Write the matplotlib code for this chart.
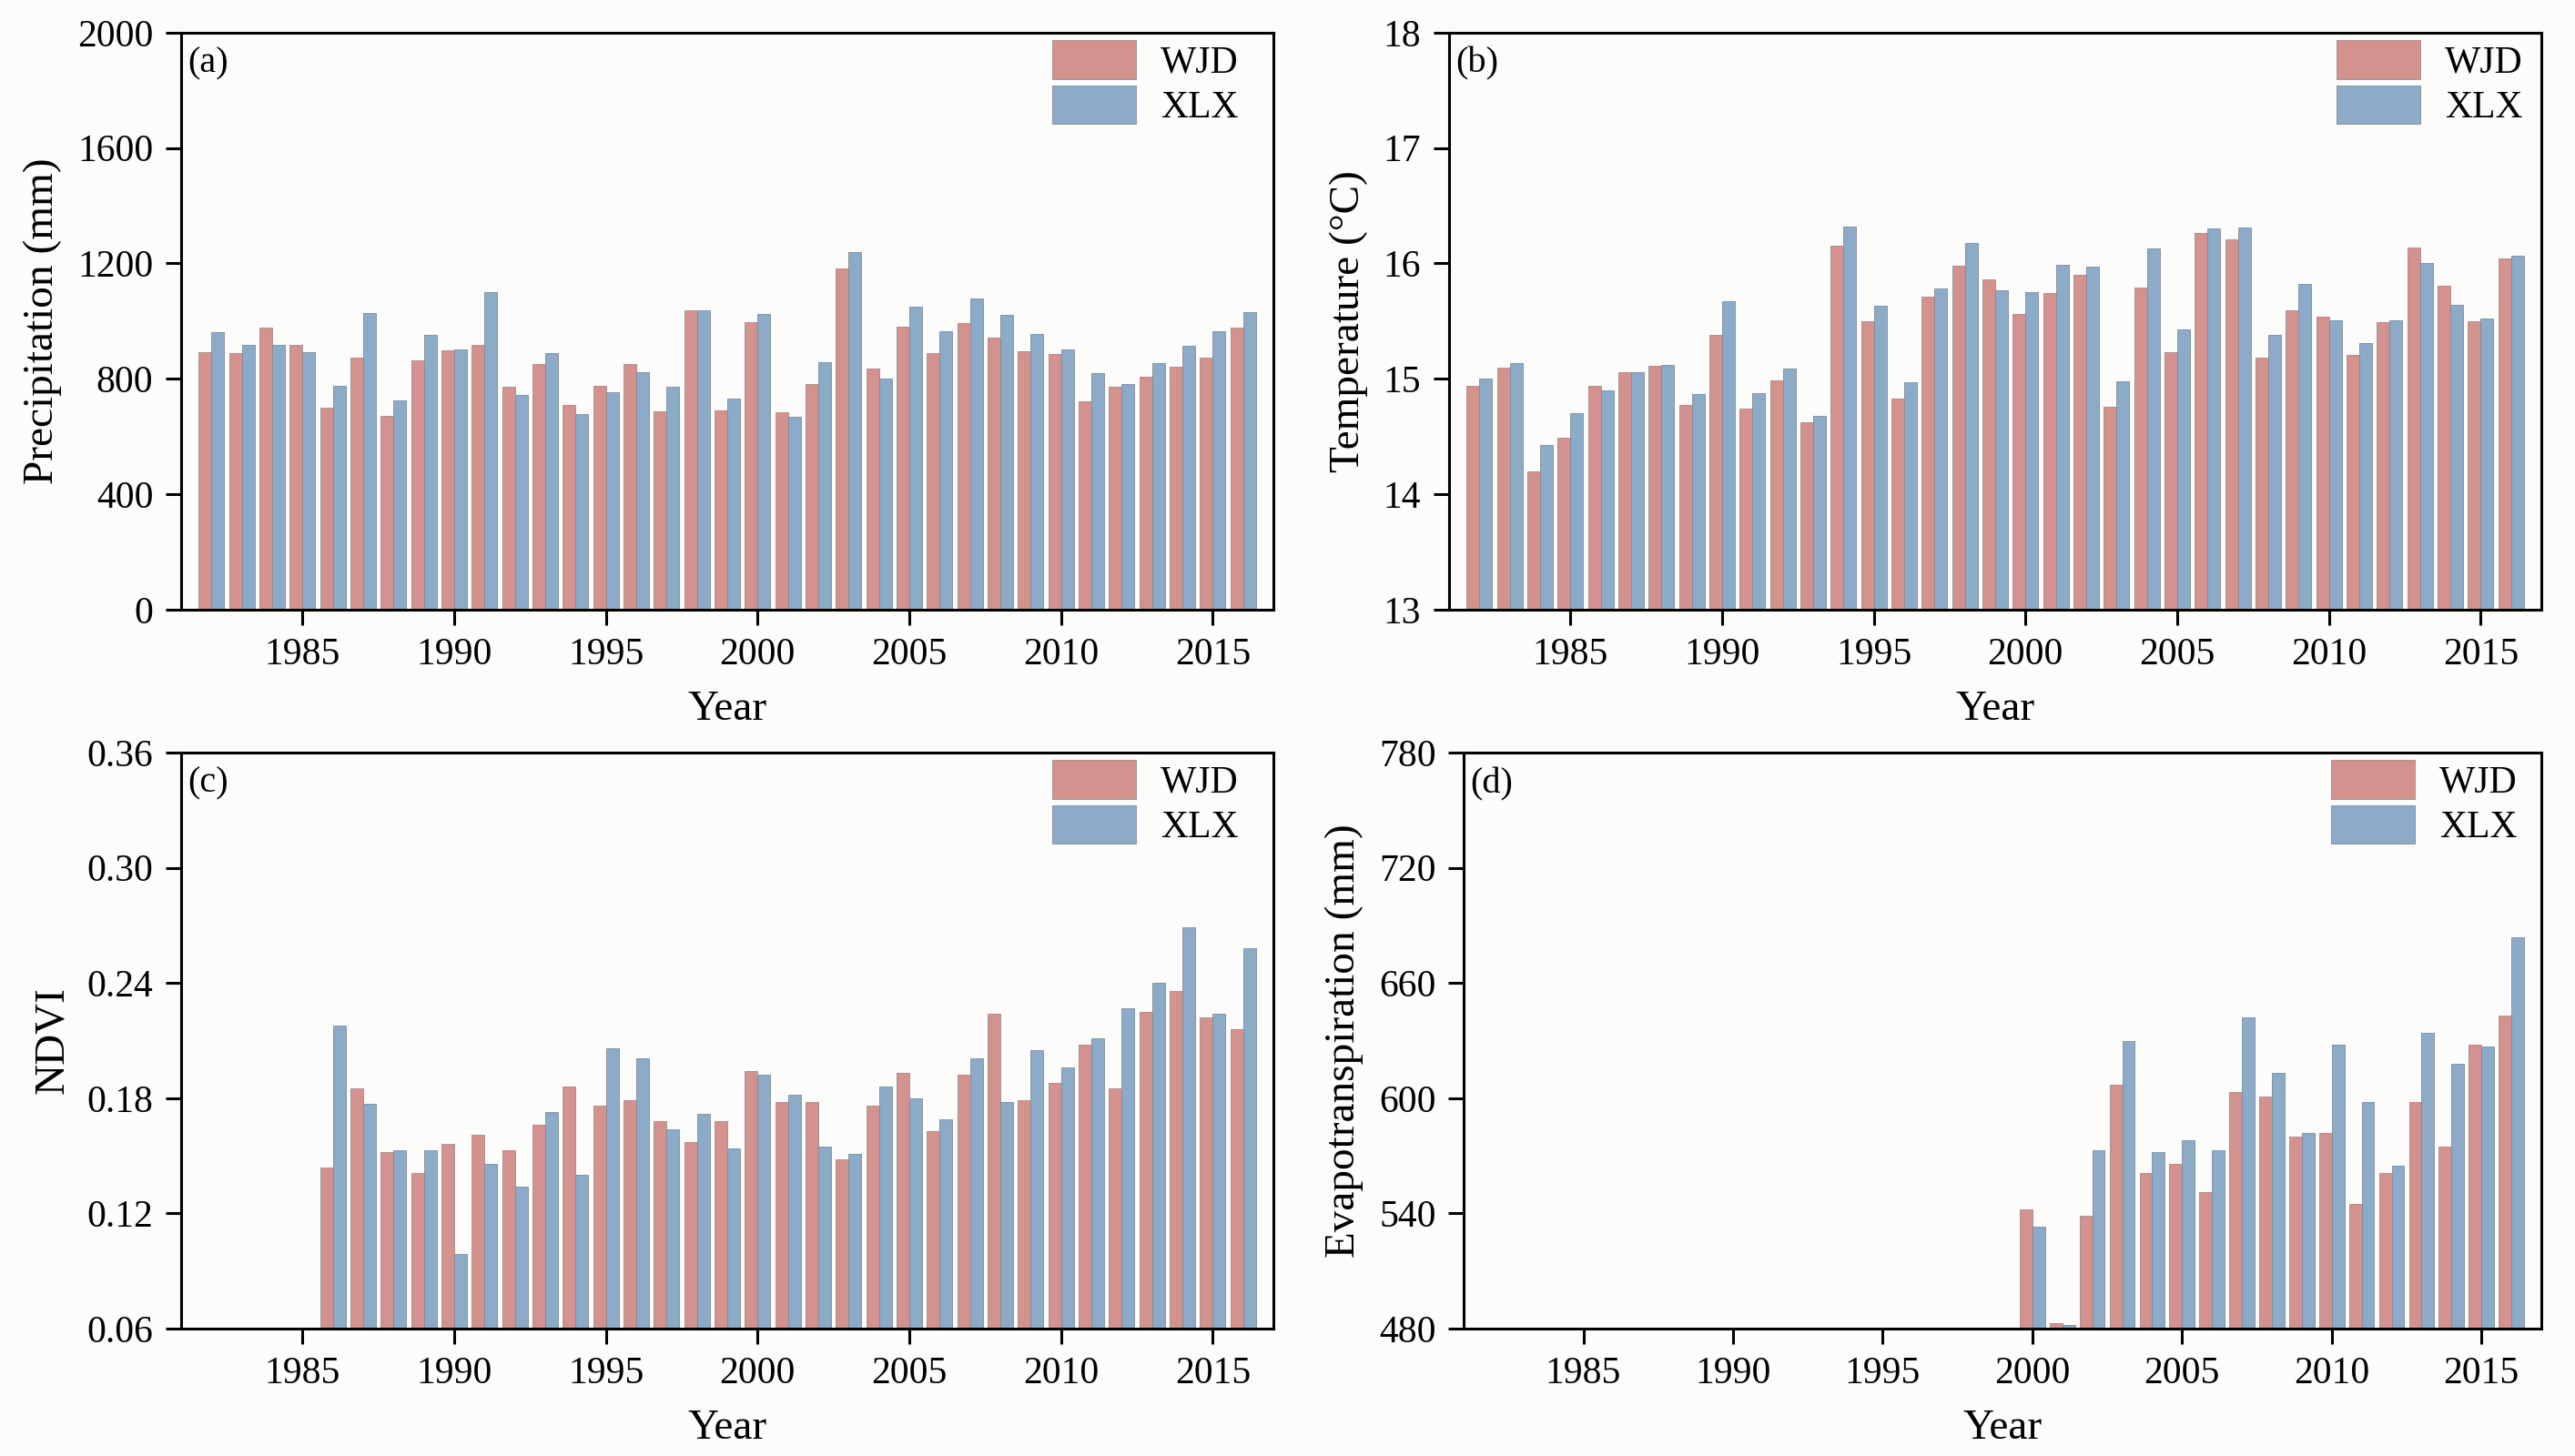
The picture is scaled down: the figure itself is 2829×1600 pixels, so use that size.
import numpy as np
import matplotlib
matplotlib.use('Agg')
from matplotlib import pyplot as plt
from matplotlib.ticker import FormatStrFormatter

plt.rcParams['font.family'] = ['Liberation Serif', 'DejaVu Serif']

years = list(range(1982, 2017))

# (a) precipitation, mm
precip_wjd = [892, 888, 976, 918, 700, 874, 672, 863, 898, 919, 774, 850, 708, 777, 851, 687, 1037, 691,
              998, 685, 783, 1182, 835, 981, 890, 992, 943, 896, 887, 722, 774, 808, 842, 874, 976]
precip_xlx = [963, 918, 918, 893, 777, 1029, 724, 951, 901, 1100, 745, 890, 679, 753, 824, 771, 1037, 730,
              1026, 667, 859, 1239, 800, 1050, 964, 1078, 1021, 956, 901, 821, 783, 853, 913, 964, 1031]

# (b) temperature, degC
temp_wjd = [14.94, 15.10, 14.20, 14.49, 14.94, 15.06, 15.11, 14.77, 15.38, 14.74, 14.99, 14.62, 16.15, 15.50,
            14.83, 15.71, 15.98, 15.86, 15.56, 15.74, 15.90, 14.76, 15.79, 15.23, 16.26, 16.21, 15.18, 15.59,
            15.54, 15.21, 15.49, 16.14, 15.81, 15.50, 16.04]
temp_xlx = [15.00, 15.14, 14.43, 14.70, 14.90, 15.06, 15.12, 14.87, 15.67, 14.88, 15.09, 14.68, 16.32, 15.63,
            14.97, 15.78, 16.18, 15.77, 15.75, 15.99, 15.97, 14.98, 16.13, 15.43, 16.30, 16.31, 15.38, 15.82,
            15.51, 15.31, 15.51, 16.00, 15.64, 15.52, 16.07]

# (c) NDVI, 1986-2016
ndvi_years = list(range(1986, 2017))
ndvi_wjd = [0.144, 0.185, 0.152, 0.141, 0.156, 0.161, 0.153, 0.166, 0.186, 0.176, 0.179, 0.168, 0.157, 0.168,
            0.194, 0.178, 0.178, 0.148, 0.176, 0.193, 0.163, 0.192, 0.224, 0.179, 0.188, 0.208, 0.185, 0.225,
            0.236, 0.222, 0.216]
ndvi_xlx = [0.218, 0.177, 0.153, 0.153, 0.099, 0.146, 0.134, 0.173, 0.140, 0.206, 0.201, 0.164, 0.172, 0.154,
            0.192, 0.182, 0.155, 0.151, 0.186, 0.180, 0.169, 0.201, 0.178, 0.205, 0.196, 0.211, 0.227, 0.240,
            0.269, 0.224, 0.258]

# (d) evapotranspiration, mm, 2000-2016
et_years = list(range(2000, 2017))
et_wjd = [542, 483, 539, 607, 561, 566, 551, 603, 601, 580, 582, 545, 561, 598, 575, 628, 643]
et_xlx = [533, 482, 573, 630, 572, 578, 573, 642, 613, 582, 628, 598, 565, 634, 618, 627, 684]

c_wjd = '#d4928f'
c_xlx = '#8cabc8'
bg = '#fcfcfa'

fig = plt.figure(figsize=(28.29, 16), dpi=100, facecolor=bg)

# axes boxes in figure fractions, plus where the legend's right edge sits
boxes = [
    [0.0703, 0.5813, 0.4242, 0.3963],
    [0.5627, 0.5813, 0.4242, 0.3963],
    [0.0703, 0.0875, 0.4242, 0.3956],
    [0.5684, 0.0875, 0.4185, 0.3956],
]
legend_x = [0.975, 0.99, 0.975, 0.985]

panels = [
    (years, precip_wjd, precip_xlx, 'Precipitation (mm)', (0, 2000), np.arange(0, 2001, 400), '(a)', None),
    (years, temp_wjd, temp_xlx, 'Temperature (°C)', (13, 18), np.arange(13, 19, 1), '(b)', None),
    (ndvi_years, ndvi_wjd, ndvi_xlx, 'NDVI', (0.06, 0.36), np.arange(0.06, 0.37, 0.06), '(c)', '%.2f'),
    (et_years, et_wjd, et_xlx, 'Evapotranspiration (mm)', (480, 780), np.arange(480, 781, 60), '(d)', None),
]

w = 0.42
for box, lx, (yrs, wjd, xlx, ylab, ylim, yticks, tag, fmt) in zip(boxes, legend_x, panels):
    ax = fig.add_axes(box)
    ax.set_facecolor(bg)
    x = np.array(yrs)
    ax.bar(x - w / 2, wjd, width=w, color=c_wjd, edgecolor='#9a8c8c', linewidth=0.6, label='WJD')
    ax.bar(x + w / 2, xlx, width=w, color=c_xlx, edgecolor='#7f8a96', linewidth=0.6, label='XLX')

    ax.set_xlim(1981, 2017)
    ax.set_ylim(*ylim)
    ax.set_xticks(range(1985, 2016, 5))
    ax.set_yticks(yticks)
    if fmt:
        ax.yaxis.set_major_formatter(FormatStrFormatter(fmt))

    for s in ax.spines.values():
        s.set_linewidth(2.2)
    ax.tick_params(axis='both', which='major', direction='out', length=12, width=2.2,
                   labelsize=30, pad=10)

    ax.set_xlabel('Year', fontsize=34, labelpad=14)
    ax.set_ylabel(ylab, fontsize=34, labelpad=12)

    ax.text(0.006, 0.975, tag, transform=ax.transAxes, fontsize=29, va='top', ha='left')

    ax.legend(loc='upper right', bbox_to_anchor=(lx, 1.0), frameon=False, fontsize=30,
              handlelength=2.2, handleheight=1.2, labelspacing=0.12, handletextpad=0.65,
              borderaxespad=0.05, borderpad=0.15)

fig.savefig('out.png', dpi=100, facecolor=bg)
